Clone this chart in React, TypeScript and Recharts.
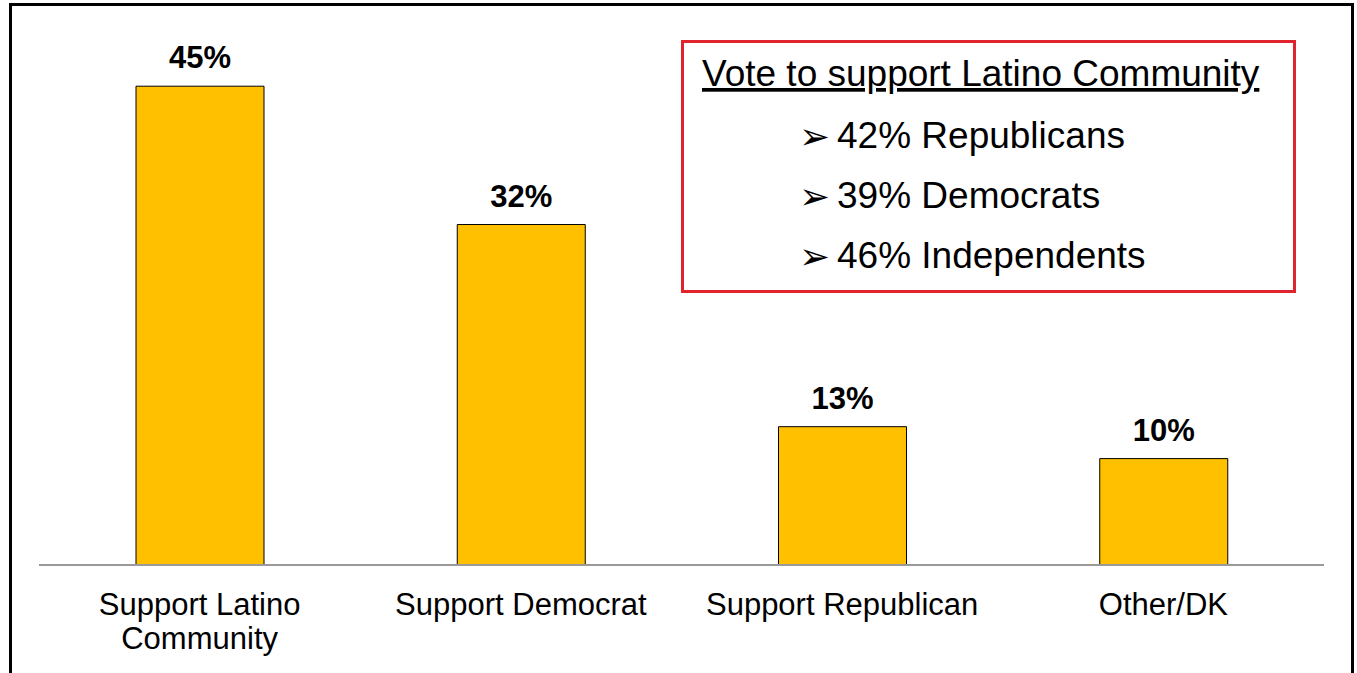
import { BarChart, Bar, XAxis, YAxis, LabelList } from "recharts"

const categories = ["Support Latino Community", "Support Democrat", "Support Republican", "Other/DK"]
const shares = [45, 32, 13, 10]
const legendTitle = "Vote to support Latino Community"
const partyItems = ["42% Republicans", "39% Democrats", "46% Independents"]

const data = categories.map((name, i) => ({ name, share: shares[i] }))

const FONT = "'Liberation Sans', Arial, Helvetica, sans-serif"
const TICK_SIZE = 31

// greedy word wrap, measured with a canvas
let ctx: CanvasRenderingContext2D | null = null
function wrap(label: string, maxWidth: number) {
  if (!ctx) {
    ctx = document.createElement("canvas").getContext("2d")
  }
  if (!ctx) return [label]
  ctx.font = `${TICK_SIZE}px ${FONT}`
  const lines: string[] = []
  let cur = ""
  for (const w of label.split(" ")) {
    const next = cur ? cur + " " + w : w
    if (cur && ctx.measureText(next).width > maxWidth) {
      lines.push(cur)
      cur = w
    } else {
      cur = next
    }
  }
  if (cur) lines.push(cur)
  return lines
}

const CategoryTick = ({ x, y, payload }: any) => {
  const lines = wrap(payload.value, 300)
  return (
    <text
      x={x}
      y={y + 50}
      textAnchor="middle"
      style={{ fontFamily: FONT, fontSize: TICK_SIZE }}
      fill="#000"
    >
      {lines.map((l, i) => (
        <tspan key={i} x={x} dy={i === 0 ? 0 : 34}>
          {l}
        </tspan>
      ))}
    </text>
  )
}

export default function App() {
  return (
    <div
      style={{
        position: "fixed",
        left: 0,
        top: 0,
        width: 1357,
        height: 673,
        overflow: "hidden",
        background: "#fff",
      }}
    >
      {/* outer frame */}
      <div
        style={{
          position: "absolute",
          left: 9,
          top: 3,
          width: 1345,
          height: 720,
          border: "3px solid #000",
          boxSizing: "border-box",
        }}
      />

      <div style={{ position: "absolute", left: 0, top: 0 }}>
        <BarChart
          width={1357}
          height={673}
          data={data}
          margin={{ top: 33, right: 33, bottom: 0, left: 39 }}
        >
          <YAxis hide domain={[0, 50]} />
          <XAxis
            dataKey="name"
            height={108}
            interval={0}
            tickLine={false}
            tickSize={0}
            tickMargin={0}
            axisLine={{ stroke: "#999", strokeWidth: 2 }}
            tick={<CategoryTick />}
          />
          <Bar
            dataKey="share"
            fill="#FFC000"
            stroke="#000"
            strokeWidth={1}
            barSize={128}
            isAnimationActive={false}
          >
            <LabelList
              dataKey="share"
              position="top"
              offset={18}
              formatter={(v: any) => `${v}%`}
              style={{ fontFamily: FONT, fontSize: 31, fontWeight: 700, fill: "#000" }}
            />
          </Bar>
        </BarChart>
      </div>

      {/* callout box */}
      <svg
        width={1357}
        height={673}
        style={{ position: "absolute", left: 0, top: 0, pointerEvents: "none" }}
      >
        <rect x={682.5} y={41.5} width={612} height={250} fill="#fff" stroke="#e0242e" strokeWidth={3} />
        <text
          x={702}
          y={86}
          style={{ fontFamily: FONT, fontSize: 37, textDecoration: "underline" }}
          fill="#000"
        >
          {legendTitle}
        </text>
        {partyItems.map((item, i) => (
          <g key={item}>
            <text x={799} y={149 + i * 60} style={{ fontFamily: "'DejaVu Sans', sans-serif", fontSize: 37 }} fill="#000">
              ➢
            </text>
            <text x={837} y={148 + i * 60} style={{ fontFamily: FONT, fontSize: 37 }} fill="#000">
              {item}
            </text>
          </g>
        ))}
      </svg>
    </div>
  )
}
